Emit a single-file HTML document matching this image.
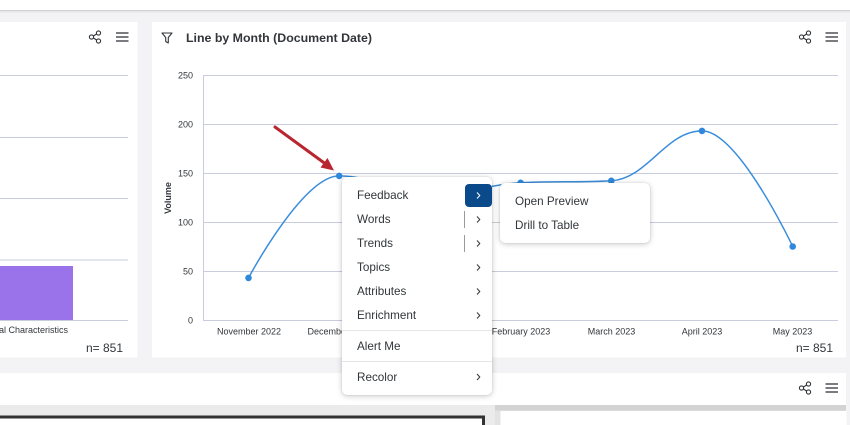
<!DOCTYPE html>
<html>
<head>
<meta charset="utf-8">
<style>
  html,body{margin:0;padding:0;}
  body{width:850px;height:425px;overflow:hidden;background:#f3f3f5;position:relative;font-family:"Liberation Sans",sans-serif;color:#32363a;}
  .abs{position:absolute;}
  .menu{position:absolute;background:#fff;border-radius:5px;box-shadow:0 1px 6px rgba(0,0,0,0.22),0 0 1px rgba(0,0,0,0.2);}
  .item{position:absolute;left:15px;font-size:11.7px;line-height:14px;color:#32363a;white-space:nowrap;}
</style>
</head>
<body>
<svg class="abs" style="left:0;top:0" width="850" height="425" viewBox="0 0 850 425" xmlns="http://www.w3.org/2000/svg">
  <!-- top strip -->
  <rect x="0" y="0" width="850" height="10" fill="#ffffff"/>
  <rect x="0" y="10" width="850" height="1" fill="#d3d3d6"/>
  <rect x="0" y="11" width="850" height="1.5" fill="#e6e6e9"/>

  <!-- left panel -->
  <rect x="0" y="22" width="137.5" height="335.5" fill="#ffffff"/>
  <g stroke="#c9ccdc" stroke-width="1">
    <line x1="0" y1="75.5" x2="128" y2="75.5"/>
    <line x1="0" y1="137.5" x2="128" y2="137.5"/>
    <line x1="0" y1="198.5" x2="128" y2="198.5"/>
    <line x1="0" y1="260" x2="128" y2="260"/>
    <line x1="0" y1="320.5" x2="128" y2="320.5"/>
  </g>
  <rect x="0" y="266" width="73" height="54" fill="#9a73ea"/>
  <text x="68" y="333" font-size="9" text-anchor="end" fill="#32363a">al Characteristics</text>
  <text x="123" y="352" font-size="12" text-anchor="end" fill="#32363a">n= 851</text>
  <!-- share icon left -->
  <g fill="none" stroke="#32363a" stroke-width="1.1">
    <circle cx="91.5" cy="37" r="2.1"/>
    <circle cx="98.5" cy="33" r="2.1"/>
    <circle cx="98.5" cy="41" r="2.1"/>
    <line x1="93.4" y1="36" x2="96.6" y2="34"/>
    <line x1="93.4" y1="38" x2="96.6" y2="40"/>
  </g>
  <g stroke="#32363a" stroke-width="1.3">
    <line x1="116" y1="33" x2="128.5" y2="33"/>
    <line x1="116" y1="37" x2="128.5" y2="37"/>
    <line x1="116" y1="41" x2="128.5" y2="41"/>
  </g>

  <!-- right panel -->
  <rect x="152" y="22" width="694" height="335.5" fill="#ffffff"/>
  <!-- filter icon -->
  <path d="M162 33 L172 33 L168.3 37.5 L168.3 43 L165.7 41.5 L165.7 37.5 Z" fill="none" stroke="#32363a" stroke-width="1.1" stroke-linejoin="round"/>
  <text x="186" y="42" font-size="12.4" font-weight="bold" fill="#32363a" textLength="186" lengthAdjust="spacingAndGlyphs">Line by Month (Document Date)</text>
  <!-- share icon right -->
  <g fill="none" stroke="#32363a" stroke-width="1.1">
    <circle cx="801.5" cy="37" r="2.1"/>
    <circle cx="808.5" cy="33" r="2.1"/>
    <circle cx="808.5" cy="41" r="2.1"/>
    <line x1="803.4" y1="36" x2="806.6" y2="34"/>
    <line x1="803.4" y1="38" x2="806.6" y2="40"/>
  </g>
  <g stroke="#32363a" stroke-width="1.3">
    <line x1="825.5" y1="33" x2="838" y2="33"/>
    <line x1="825.5" y1="37" x2="838" y2="37"/>
    <line x1="825.5" y1="41" x2="838" y2="41"/>
  </g>

  <!-- grid -->
  <g stroke="#c9ccdc" stroke-width="1">
    <line x1="203.5" y1="75.5" x2="838" y2="75.5"/>
    <line x1="203.5" y1="124.5" x2="838" y2="124.5"/>
    <line x1="203.5" y1="173.5" x2="838" y2="173.5"/>
    <line x1="203.5" y1="222.5" x2="838" y2="222.5"/>
    <line x1="203.5" y1="271.5" x2="838" y2="271.5"/>
    <line x1="203.5" y1="320.5" x2="838" y2="320.5"/>
    <line x1="203.5" y1="75" x2="203.5" y2="321"/>
  </g>
  <!-- y labels -->
  <g font-size="9" fill="#32363a" text-anchor="end">
    <text x="193" y="78.5">250</text>
    <text x="193" y="127.5">200</text>
    <text x="193" y="176.5">150</text>
    <text x="193" y="225.5">100</text>
    <text x="193" y="274.5">50</text>
    <text x="193" y="323.5">0</text>
  </g>
  <text transform="translate(171,198) rotate(-90)" font-size="9" font-weight="bold" text-anchor="middle" fill="#32363a">Volume</text>
  <!-- x labels -->
  <g font-size="9" fill="#32363a" text-anchor="middle">
    <text x="249" y="334.5">November 2022</text>
    <text x="339.5" y="334.5">December 2022</text>
    <text x="430" y="334.5">January 2023</text>
    <text x="521" y="334.5">February 2023</text>
    <text x="611.5" y="334.5">March 2023</text>
    <text x="702" y="334.5">April 2023</text>
    <text x="792.5" y="334.5">May 2023</text>
  </g>
  <text x="833" y="352" font-size="12" text-anchor="end" fill="#32363a">n= 851</text>

  <!-- series -->
  <path d="M248.5 277.9 C248.5 277.9 302.9 175.9 339.2 175.9 C375.5 175.9 393.6 195.5 429.9 195.5 C466.2 195.5 484.3 184.8 520.6 182.8 C556.9 180.8 575.0 182.8 611.3 180.8 C647.6 178.8 665.7 130.9 702.0 130.9 C738.3 130.9 792.7 246.5 792.7 246.5" fill="none" stroke="#3a8ddc" stroke-width="1.5"/>
  <g fill="#2f88dc">
    <circle cx="248.5" cy="277.9" r="3.3"/>
    <circle cx="339.2" cy="175.9" r="3.3"/>
    <circle cx="429.9" cy="195.5" r="3.3"/>
    <circle cx="520.6" cy="182.8" r="3.3"/>
    <circle cx="611.3" cy="180.8" r="3.3"/>
    <circle cx="702.0" cy="130.9" r="3.3"/>
    <circle cx="792.7" cy="246.5" r="3.3"/>
  </g>

  <!-- red arrow -->
  <line x1="275" y1="127" x2="325" y2="163.5" stroke="#b8262f" stroke-width="3" stroke-linecap="round"/>
  <path d="M334 170.5 L320.5 167.5 L327.5 158 Z" fill="#b8262f"/>

  <!-- lower panel -->
  <rect x="0" y="373" width="846" height="52" fill="#ffffff"/>
  <g fill="none" stroke="#32363a" stroke-width="1.1">
    <circle cx="801.5" cy="388" r="2.1"/>
    <circle cx="808.5" cy="384" r="2.1"/>
    <circle cx="808.5" cy="392" r="2.1"/>
    <line x1="803.4" y1="387" x2="806.6" y2="385"/>
    <line x1="803.4" y1="389" x2="806.6" y2="391"/>
  </g>
  <g stroke="#32363a" stroke-width="1.3">
    <line x1="825.5" y1="384" x2="838" y2="384"/>
    <line x1="825.5" y1="388" x2="838" y2="388"/>
    <line x1="825.5" y1="392" x2="838" y2="392"/>
  </g>
  <rect x="0" y="405" width="495" height="20" fill="#ebebeb"/>
  <rect x="-4" y="417" width="487.5" height="12" fill="#ffffff" stroke="#333333" stroke-width="3"/>
  <rect x="495" y="405" width="351" height="20" fill="#e3e3e3"/>
  <rect x="495" y="405" width="351" height="5.5" fill="#d3d3d3"/>
  <rect x="500.5" y="411" width="346" height="14" fill="#ffffff"/>
</svg>

<!-- context menu -->
<div class="menu" style="left:342px;top:177px;width:150px;height:218px;">
  <div class="item" style="top:12px;">Feedback</div>
  <div class="item" style="top:36px;">Words</div>
  <div class="item" style="top:60px;">Trends</div>
  <div class="item" style="top:84px;">Topics</div>
  <div class="item" style="top:108px;">Attributes</div>
  <div class="item" style="top:132px;">Enrichment</div>
  <div class="abs" style="left:0;top:153px;width:150px;height:1px;background:#e5e5e5;"></div>
  <div class="item" style="top:163px;">Alert Me</div>
  <div class="abs" style="left:0;top:184px;width:150px;height:1px;background:#e5e5e5;"></div>
  <div class="item" style="top:194px;">Recolor</div>
  <div class="abs" style="left:123px;top:6.5px;width:27px;height:23.5px;background:#0b4a8a;border-radius:4px;"></div>
  <svg class="abs" style="left:0;top:0" width="150" height="218" xmlns="http://www.w3.org/2000/svg">
    <polyline points="135,15.5 137.8,18.5 135,21.5" fill="none" stroke="#ffffff" stroke-width="1"/>
    <line x1="122.5" y1="34" x2="122.5" y2="51" stroke="#9a9a9a" stroke-width="1"/>
    <line x1="122.5" y1="58" x2="122.5" y2="75" stroke="#9a9a9a" stroke-width="1"/>
    <g fill="none" stroke="#32363a" stroke-width="1">
      <polyline points="135,39.5 137.8,42.5 135,45.5"/>
      <polyline points="135,63.5 137.8,66.5 135,69.5"/>
      <polyline points="135,87.5 137.8,90.5 135,93.5"/>
      <polyline points="135,111.5 137.8,114.5 135,117.5"/>
      <polyline points="135,135.5 137.8,138.5 135,141.5"/>
      <polyline points="135,197 137.8,200 135,203"/>
    </g>
  </svg>
</div>

<!-- submenu -->
<div class="menu" style="left:500px;top:183px;width:150px;height:60px;">
  <div class="item" style="top:11.5px;">Open Preview</div>
  <div class="item" style="top:35.5px;">Drill to Table</div>
</div>
</body>
</html>
